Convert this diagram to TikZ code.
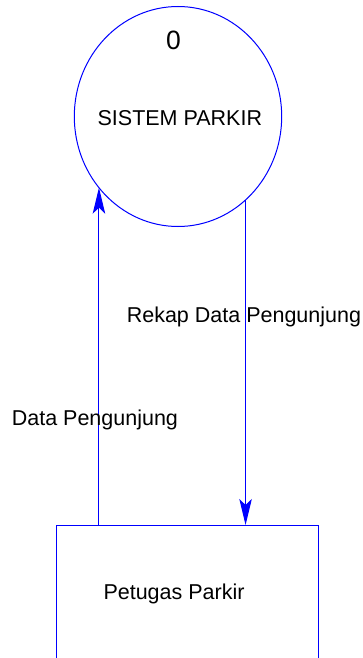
\documentclass[tikz,border=0pt]{standalone}
\usepackage{fontspec}
\setmainfont{Liberation Sans}
\usetikzlibrary{arrows.meta,shapes.geometric}

\tikzset{
  dfdline/.style={draw=blue, line width=1pt},
  flow/.style={dfdline, -{Stealth[length=26pt, width=12.5pt, inset=6pt]}},
  txt/.style={inner sep=0pt, outer sep=0pt, anchor=base west, text=black,
              font=\fontsize{21.5}{25}\selectfont},
}

\begin{document}
\begin{tikzpicture}[x=1pt, y=-1pt]
  \useasboundingbox (0,0) rectangle (362,658);
  \clip (0,0) rectangle (362,658);

  % process bubble
  \node[dfdline, ellipse, minimum width=207.4pt, minimum height=220pt,
        inner sep=0pt, outer sep=0pt] (proc) at (178,116.5) {};
  \node[txt, font=\fontsize{26.5}{30}\selectfont] (pnum) at (166,49.5) {0};
  \node[txt] (pname) at (97.6,125) {SISTEM PARKIR};

  % external entity
  \node[dfdline, rectangle, minimum width=261.6pt, minimum height=170pt,
        inner sep=0pt, outer sep=0pt] (ent) at (187.5,610) {};
  \node[txt] (ename) at (103.5,599) {Petugas Parkir};

  % data flows
  \draw[flow] (proc.222.07 |- ent.north) -- (proc.222.07);
  \draw[flow] (proc.309.1) -- (proc.309.1 |- ent.north);

  % flow labels
  \node[txt] (lrekap) at (126.8,322.3) {Rekap Data Pengunjung};
  \node[txt] (ldata) at (11.8,425) {Data Pengunjung};
\end{tikzpicture}
\end{document}
